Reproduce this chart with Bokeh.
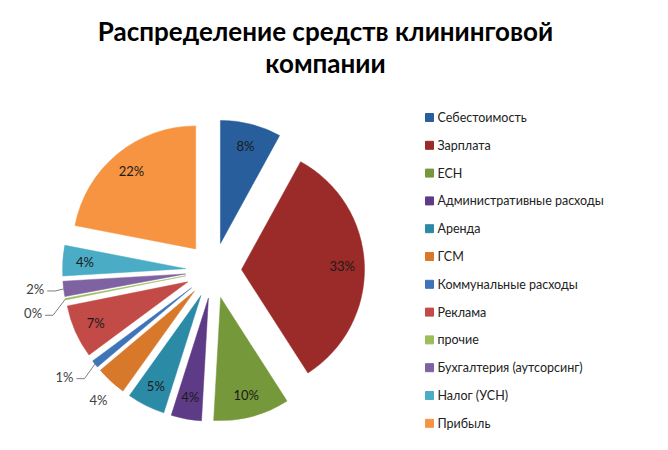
import math
from bokeh.plotting import figure
from bokeh.models import Range1d, ColumnDataSource
from bokeh.core.properties import value
from bokeh.embed import file_html
from bokeh.resources import INLINE

# ---- data ----
title_lines = ["Распределение средств клининговой", "компании"]
categories = ["Себестоимость", "Зарплата", "ЕСН", "Административные расходы",
              "Аренда", "ГСМ", "Коммунальные расходы", "Реклама", "прочие",
              "Бухгалтерия (аутсорсинг)", "Налог (УСН)", "Прибыль"]
shares = [8, 33, 10, 4, 5, 4, 1, 7, 0.2, 2, 4, 22]
colors = ["#275E9B", "#9A2B28", "#75983B", "#5E3B86", "#2B8AA6", "#D8782B",
          "#3F74B9", "#C24A47", "#9CBD5A", "#7F62A1", "#4AACC5", "#F69441"]

# ---- layout / style ----
W, H = 652, 434
FONT = "Lato"
CX, CY = 213, 180          # pie centre (data units = px, y up)
R = 123                    # radius
EXPLODE = 28               # explosion distance
LABEL_IN = 0.82            # inside label radius fraction
# name: (radius factor, angle tweak in degrees, leader line)
OUTSIDE = {"ГСМ": (1.18, -1.3, False),
           "Коммунальные расходы": (1.26, 3.3, True),
           "прочие": (1.28, -2.8, True),
           "Бухгалтерия (аутсорсинг)": (1.23, 1.3, True)}

p = figure(width=W, height=H, output_backend="svg", toolbar_location=None,
           x_range=Range1d(0, W), y_range=Range1d(450 - H, 450),
           min_border=0)
p.axis.visible = False
p.grid.visible = False
p.outline_line_color = None
p.background_fill_color = "white"

total = sum(shares)
cum = 0.0
xs, ys, sa, ea = [], [], [], []
lab_x, lab_y, lab_t = [], [], []
olab_x, olab_y, olab_t = [], [], []
lead_xs, lead_ys = [], []
for name, v in zip(categories, shares):
    t1 = cum / total * 2 * math.pi
    cum += v
    t2 = cum / total * 2 * math.pi
    mid = (t1 + t2) / 2
    vx = CX + EXPLODE * math.sin(mid)
    vy = CY + EXPLODE * math.cos(mid)
    xs.append(vx); ys.append(vy)
    sa.append(math.pi / 2 - t1); ea.append(math.pi / 2 - t2)
    pct = f"{round(v / total * 100):.0f}%"
    if name in OUTSIDE:
        f, dth, lead = OUTSIDE[name]
        a = mid + math.radians(dth)
        lx = vx + f * R * math.sin(a)
        ly = vy + f * R * math.cos(a)
        olab_x.append(lx); olab_y.append(ly); olab_t.append(pct)
        if lead:
            ax = vx + R * math.sin(mid)
            ay = vy + R * math.cos(mid)
            lead_xs.append([lx + 12, lx + 20, ax])
            lead_ys.append([ly - 2, ly - 2, ay])
    else:
        lab_x.append(vx + LABEL_IN * R * math.sin(mid))
        lab_y.append(vy + LABEL_IN * R * math.cos(mid))
        lab_t.append(pct)

src = ColumnDataSource(dict(x=xs, y=ys, sa=sa, ea=ea, color=colors))
p.wedge(x="x", y="y", radius=R, start_angle="sa", end_angle="ea",
        direction="clock", fill_color="color", line_color="color",
        line_width=0.5, source=src)

p.multi_line(xs=lead_xs, ys=lead_ys, line_color="#7F7F7F", line_width=1)

p.text(x=lab_x, y=lab_y, text=lab_t, text_font=value(FONT),
       text_font_size="13px", text_color="#1A1A1A",
       text_align="center", text_baseline="middle")
p.text(x=olab_x, y=olab_y, text=olab_t, text_font=value(FONT),
       text_font_size="13px", text_color="#404040",
       text_align="center", text_baseline="middle")

# title
p.text(x=[325, 325], y=[420, 388], text=title_lines, text_font=value(FONT),
       text_font_size="26px", text_font_style="bold", text_color="#000000",
       text_align="center", text_baseline="middle")

# legend
LEG_X, LEG_Y0, LEG_DY = 429, 450 - 117, 27.8
leg_y = [LEG_Y0 - i * LEG_DY for i in range(len(categories))]
p.scatter(x=[LEG_X] * len(categories), y=leg_y, marker="square", size=8,
          fill_color=colors, line_color=colors)
p.text(x=[LEG_X + 8] * len(categories), y=leg_y, text=categories,
       text_font=value(FONT), text_font_size="12.5px", text_color="#222222",
       text_align="left", text_baseline="middle")

open("out.html", "w").write(file_html(p, INLINE))
